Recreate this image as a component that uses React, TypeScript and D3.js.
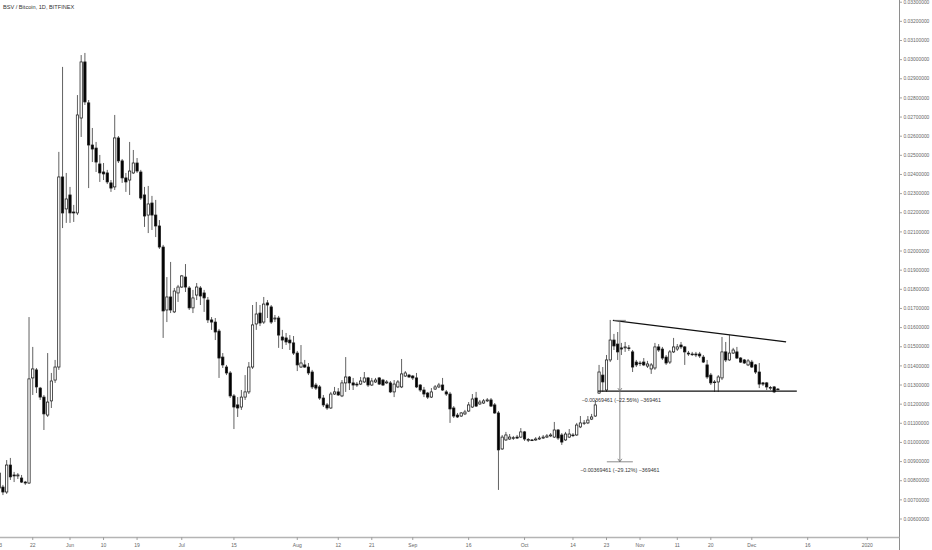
import React from 'react';
import * as d3 from 'd3';

// ---- data ----
const startDay = Date.UTC(2019, 4, 13); // first candle: 13 May 2019
const DAY = 86400000;

const open = [
  0.00762, 0.00767, 0.00741, 0.00882, 0.00830, 0.00825, 0.00814, 0.00793, 0.00788, 0.01337,
  0.01379, 0.01284, 0.01237, 0.01143, 0.01217, 0.01326, 0.01394, 0.02387, 0.02220, 0.02293,
  0.02204, 0.02199, 0.02695, 0.02988, 0.02774, 0.02554, 0.02538, 0.02455, 0.02413, 0.02408,
  0.02356, 0.02335, 0.02591, 0.02471, 0.02382, 0.02371, 0.02408, 0.02460, 0.02413, 0.02293,
  0.02188, 0.02251, 0.02188, 0.02131, 0.02021, 0.01692, 0.01760, 0.01682, 0.01781, 0.01812,
  0.01864, 0.01807, 0.01703, 0.01770, 0.01807, 0.01781, 0.01744, 0.01640, 0.01629, 0.01582,
  0.01446, 0.01394, 0.01363, 0.01243, 0.01196, 0.01185, 0.01237, 0.01264, 0.01394, 0.01619,
  0.01676, 0.01629, 0.01729, 0.01708, 0.01645, 0.01650, 0.01551, 0.01546, 0.01535, 0.01520,
  0.01467, 0.01394, 0.01405, 0.01394, 0.01368, 0.01300, 0.01290, 0.01232, 0.01196, 0.01180,
  0.01253, 0.01264, 0.01243, 0.01311, 0.01342, 0.01311, 0.01305, 0.01305, 0.01316, 0.01337,
  0.01300, 0.01316, 0.01337, 0.01326, 0.01311, 0.01311, 0.01264, 0.01290, 0.01290, 0.01347,
  0.01352, 0.01347, 0.01337, 0.01300, 0.01274, 0.01258, 0.01237, 0.01279, 0.01290, 0.01300,
  0.01264, 0.01253, 0.01180, 0.01143, 0.01138, 0.01149, 0.01164, 0.01185, 0.01232, 0.01201,
  0.01206, 0.01217, 0.01222, 0.01196, 0.01154, 0.00966, 0.01013, 0.01018, 0.01023, 0.01028,
  0.01028, 0.01055, 0.01013, 0.01013, 0.01013, 0.01018, 0.01023, 0.01028, 0.01034, 0.01028,
  0.01065, 0.01039, 0.01013, 0.01028, 0.01039, 0.01039, 0.01081, 0.01099, 0.01102, 0.01122,
  0.01138, 0.01258, 0.01352, 0.01274, 0.01431, 0.01535, 0.01514, 0.01494, 0.01494, 0.01494,
  0.01473, 0.01420, 0.01415, 0.01420, 0.01399, 0.01384, 0.01389, 0.01499, 0.01488, 0.01446,
  0.01420, 0.01473, 0.01488, 0.01509, 0.01499, 0.01467, 0.01462, 0.01462, 0.01462, 0.01446,
  0.01405, 0.01352, 0.01316, 0.01316, 0.01337, 0.01473, 0.01431, 0.01467, 0.01473, 0.01441,
  0.01431, 0.01405, 0.01420, 0.01405, 0.01368, 0.01311, 0.01311, 0.01284, 0.01290, 0.01279,
];

const high = [
  0.00856, 0.00778, 0.00908, 0.00919, 0.00846, 0.00840, 0.00830, 0.00799, 0.01655, 0.01499,
  0.01389, 0.01290, 0.01248, 0.01467, 0.01363, 0.01431, 0.02518, 0.02962, 0.02408, 0.02335,
  0.02241, 0.02815, 0.03024, 0.03035, 0.02789, 0.02643, 0.02570, 0.02502, 0.02460, 0.02424,
  0.02371, 0.02711, 0.02601, 0.02481, 0.02408, 0.02570, 0.02528, 0.02486, 0.02424, 0.02335,
  0.02340, 0.02288, 0.02267, 0.02162, 0.02032, 0.01864, 0.01943, 0.01807, 0.01823, 0.01875,
  0.01932, 0.01817, 0.01797, 0.01833, 0.01817, 0.01797, 0.01760, 0.01655, 0.01650, 0.01593,
  0.01467, 0.01405, 0.01373, 0.01253, 0.01237, 0.01274, 0.01352, 0.01420, 0.01718, 0.01734,
  0.01718, 0.01760, 0.01744, 0.01718, 0.01666, 0.01661, 0.01588, 0.01572, 0.01561, 0.01556,
  0.01478, 0.01509, 0.01431, 0.01415, 0.01379, 0.01311, 0.01300, 0.01248, 0.01206, 0.01264,
  0.01290, 0.01284, 0.01326, 0.01446, 0.01347, 0.01337, 0.01316, 0.01342, 0.01368, 0.01342,
  0.01337, 0.01337, 0.01342, 0.01332, 0.01326, 0.01321, 0.01326, 0.01326, 0.01436, 0.01373,
  0.01358, 0.01352, 0.01363, 0.01305, 0.01290, 0.01264, 0.01284, 0.01300, 0.01311, 0.01337,
  0.01274, 0.01264, 0.01190, 0.01154, 0.01159, 0.01170, 0.01211, 0.01253, 0.01264, 0.01222,
  0.01227, 0.01232, 0.01232, 0.01206, 0.01164, 0.01039, 0.01055, 0.01044, 0.01034, 0.01039,
  0.01075, 0.01060, 0.01023, 0.01018, 0.01028, 0.01034, 0.01039, 0.01044, 0.01049, 0.01107,
  0.01070, 0.01049, 0.01055, 0.01070, 0.01049, 0.01102, 0.01138, 0.01117, 0.01138, 0.01149,
  0.01222, 0.01405, 0.01394, 0.01457, 0.01640, 0.01567, 0.01577, 0.01520, 0.01525, 0.01509,
  0.01483, 0.01431, 0.01426, 0.01441, 0.01426, 0.01415, 0.01520, 0.01514, 0.01499, 0.01457,
  0.01483, 0.01546, 0.01514, 0.01525, 0.01504, 0.01478, 0.01473, 0.01473, 0.01473, 0.01457,
  0.01431, 0.01363, 0.01326, 0.01352, 0.01551, 0.01525, 0.01561, 0.01494, 0.01499, 0.01446,
  0.01436, 0.01436, 0.01431, 0.01410, 0.01415, 0.01316, 0.01316, 0.01295, 0.01295, 0.01284,
];

const low = [
  0.00752, 0.00725, 0.00731, 0.00804, 0.00793, 0.00809, 0.00788, 0.00778, 0.00783, 0.01248,
  0.01258, 0.01222, 0.01065, 0.01133, 0.01180, 0.01311, 0.01379, 0.02120, 0.02147, 0.02147,
  0.02152, 0.02188, 0.02596, 0.02763, 0.02329, 0.02465, 0.02413, 0.02361, 0.02371, 0.02350,
  0.02309, 0.02319, 0.02460, 0.02356, 0.02309, 0.02293, 0.02403, 0.02408, 0.02267, 0.02126,
  0.02094, 0.02110, 0.02073, 0.02011, 0.01546, 0.01629, 0.01676, 0.01676, 0.01734, 0.01807,
  0.01786, 0.01692, 0.01676, 0.01744, 0.01718, 0.01682, 0.01624, 0.01588, 0.01535, 0.01337,
  0.01389, 0.01352, 0.01232, 0.01070, 0.01133, 0.01170, 0.01222, 0.01253, 0.01384, 0.01588,
  0.01608, 0.01619, 0.01650, 0.01619, 0.01629, 0.01494, 0.01488, 0.01509, 0.01483, 0.01457,
  0.01373, 0.01389, 0.01389, 0.01352, 0.01279, 0.01274, 0.01222, 0.01185, 0.01170, 0.01175,
  0.01248, 0.01243, 0.01237, 0.01264, 0.01274, 0.01274, 0.01290, 0.01300, 0.01311, 0.01290,
  0.01295, 0.01311, 0.01300, 0.01295, 0.01305, 0.01258, 0.01237, 0.01284, 0.01284, 0.01342,
  0.01337, 0.01326, 0.01284, 0.01264, 0.01237, 0.01227, 0.01232, 0.01274, 0.01284, 0.01269,
  0.01243, 0.01102, 0.01128, 0.01128, 0.01133, 0.01143, 0.01159, 0.01180, 0.01185, 0.01196,
  0.01201, 0.01211, 0.01185, 0.01149, 0.00752, 0.00961, 0.01008, 0.01013, 0.01013, 0.01018,
  0.01023, 0.01008, 0.01002, 0.01008, 0.01008, 0.01013, 0.01018, 0.01023, 0.01028, 0.01023,
  0.01013, 0.00987, 0.01008, 0.01023, 0.01028, 0.01034, 0.01075, 0.01091, 0.01096, 0.01117,
  0.01133, 0.01253, 0.01264, 0.01264, 0.01420, 0.01483, 0.01431, 0.01457, 0.01473, 0.01478,
  0.01368, 0.01394, 0.01399, 0.01399, 0.01389, 0.01358, 0.01379, 0.01473, 0.01431, 0.01405,
  0.01410, 0.01467, 0.01478, 0.01488, 0.01405, 0.01452, 0.01452, 0.01446, 0.01441, 0.01415,
  0.01332, 0.01300, 0.01264, 0.01264, 0.01326, 0.01420, 0.01426, 0.01462, 0.01436, 0.01415,
  0.01410, 0.01399, 0.01389, 0.01358, 0.01284, 0.01295, 0.01274, 0.01274, 0.01258, 0.01274,
];

const close = [
  0.00840, 0.00741, 0.00882, 0.00820, 0.00825, 0.00830, 0.00793, 0.00788, 0.01332, 0.01384,
  0.01290, 0.01237, 0.01149, 0.01211, 0.01321, 0.01394, 0.02387, 0.02199, 0.02272, 0.02199,
  0.02199, 0.02711, 0.02988, 0.02779, 0.02554, 0.02533, 0.02465, 0.02408, 0.02403, 0.02361,
  0.02329, 0.02591, 0.02471, 0.02382, 0.02361, 0.02418, 0.02460, 0.02418, 0.02277, 0.02183,
  0.02246, 0.02188, 0.02131, 0.02021, 0.01687, 0.01760, 0.01692, 0.01791, 0.01812, 0.01870,
  0.01812, 0.01703, 0.01755, 0.01812, 0.01765, 0.01755, 0.01640, 0.01629, 0.01577, 0.01441,
  0.01405, 0.01363, 0.01243, 0.01185, 0.01180, 0.01237, 0.01264, 0.01394, 0.01614, 0.01671,
  0.01624, 0.01723, 0.01718, 0.01629, 0.01650, 0.01561, 0.01535, 0.01525, 0.01520, 0.01467,
  0.01405, 0.01415, 0.01394, 0.01363, 0.01290, 0.01284, 0.01232, 0.01196, 0.01180, 0.01253,
  0.01264, 0.01248, 0.01311, 0.01342, 0.01311, 0.01300, 0.01300, 0.01321, 0.01337, 0.01300,
  0.01321, 0.01326, 0.01305, 0.01300, 0.01316, 0.01264, 0.01305, 0.01316, 0.01358, 0.01363,
  0.01342, 0.01337, 0.01290, 0.01274, 0.01253, 0.01237, 0.01264, 0.01290, 0.01300, 0.01274,
  0.01253, 0.01175, 0.01138, 0.01133, 0.01154, 0.01159, 0.01196, 0.01227, 0.01190, 0.01211,
  0.01217, 0.01222, 0.01190, 0.01154, 0.00961, 0.01028, 0.01039, 0.01028, 0.01025, 0.01023,
  0.01055, 0.01018, 0.01015, 0.01011, 0.01018, 0.01023, 0.01028, 0.01034, 0.01039, 0.01065,
  0.01023, 0.01002, 0.01044, 0.01044, 0.01036, 0.01091, 0.01102, 0.01102, 0.01117, 0.01133,
  0.01196, 0.01368, 0.01316, 0.01431, 0.01535, 0.01504, 0.01473, 0.01488, 0.01499, 0.01491,
  0.01394, 0.01405, 0.01412, 0.01405, 0.01410, 0.01405, 0.01499, 0.01483, 0.01441, 0.01415,
  0.01473, 0.01499, 0.01499, 0.01499, 0.01473, 0.01462, 0.01460, 0.01457, 0.01452, 0.01420,
  0.01342, 0.01311, 0.01313, 0.01342, 0.01473, 0.01431, 0.01467, 0.01483, 0.01441, 0.01420,
  0.01415, 0.01426, 0.01394, 0.01368, 0.01305, 0.01305, 0.01290, 0.01287, 0.01264, 0.01277,
];

const yTickValues = [
  0.006, 0.007, 0.008, 0.009, 0.010, 0.011, 0.012, 0.013, 0.014, 0.015,
  0.016, 0.017, 0.018, 0.019, 0.020, 0.021, 0.022, 0.023, 0.024, 0.025,
  0.026, 0.027, 0.028, 0.029, 0.030, 0.031, 0.032, 0.033,
];

const xTickDates = [
  '2019-05-13', '2019-05-22', '2019-06-01', '2019-06-10', '2019-06-19', '2019-07-01', '2019-07-15',
  '2019-08-01', '2019-08-12', '2019-08-21', '2019-09-01', '2019-09-16', '2019-10-01', '2019-10-14',
  '2019-10-23', '2019-11-01', '2019-11-11', '2019-11-20', '2019-12-01', '2019-12-16', '2020-01-01',
];
const xTickLabels = [
  '13', '22', 'Jun', '10', '19', 'Jul', '15', 'Aug', '12', '21', 'Sep', '16', 'Oct', '14',
  '23', 'Nov', '11', '20', 'Dec', '16', '2020',
];

const title = 'BSV / Bitcoin, 1D, BITFINEX';

// drawn annotations (date, price)
const topTrendDates = ['2019-10-24T17:00:00Z', '2019-12-10T05:00:00Z'];
const topTrendPrices = [0.016377, 0.01525];
const baseTrendDates = ['2019-10-20T17:00:00Z', '2019-12-13T02:00:00Z'];
const baseTrendPrices = [0.012682, 0.012682];
const measureDate = '2019-10-26T14:00:00Z';
const measureLevels = [0.016377, 0.012682, 0.008988];
const measureLabels = ['\u22120.00369461 (\u221222.56%) \u2212369461', '\u22120.00369461 (\u221229.12%) \u2212369461'];

// ---- layout ----
const W = 932;
const H = 550;
const axisX = 899.5;
const axisY = 537.5;
const FONT = '"Liberation Sans", Arial, sans-serif';

export default function App() {
  const x = d3
    .scaleUtc()
    .domain([new Date(Date.UTC(2019, 5, 1)), new Date(Date.UTC(2020, 0, 1))])
    .range([70, 867.3]);
  const y = d3.scaleLinear().domain([0.006, 0.031]).range([519, 40.5]);

  const bw = 2.3;
  const candles = open.map((o, i) => {
    const c = close[i];
    const cx = x(new Date(startDay + i * DAY));
    const up = c >= o;
    const yTop = y(Math.max(o, c));
    const yBot = y(Math.min(o, c));
    return { i, cx, up, yTop, h: Math.max(yBot - yTop, 0.7), yH: y(high[i]), yL: y(low[i]) };
  });

  const mx = x(new Date(measureDate));
  const mY = measureLevels.map((v) => y(v));
  const topLine = d3.line<number>()(
    topTrendDates.map((d, k) => [x(new Date(d)), y(topTrendPrices[k])] as [number, number]) as any
  );
  const baseLine = d3.line<number>()(
    baseTrendDates.map((d, k) => [x(new Date(d)), y(baseTrendPrices[k])] as [number, number]) as any
  );

  return (
    <svg
      width={W}
      height={H}
      viewBox={`0 0 ${W} ${H}`}
      style={{ position: 'absolute', left: 0, top: 0, background: '#fff', fontFamily: FONT }}
    >
      <rect x={0} y={0} width={W} height={H} fill="#fff" />

      {/* candles */}
      <g>
        {candles.map((d) => (
          <g key={d.i}>
            <line x1={d.cx} x2={d.cx} y1={d.yH} y2={d.yL} stroke="#3a3a3a" strokeWidth={0.8} />
            <rect
              x={d.cx - bw / 2}
              y={d.yTop}
              width={bw}
              height={d.h}
              fill={d.up ? '#ffffff' : '#000000'}
              stroke="#1a1a1a"
              strokeWidth={0.75}
            />
          </g>
        ))}
      </g>

      {/* trend lines */}
      <path d={topLine || ''} stroke="#111" strokeWidth={1.3} fill="none" />
      <path d={baseLine || ''} stroke="#111" strokeWidth={1.3} fill="none" />

      {/* measure tool */}
      <g stroke="#6e6e6e" strokeWidth={0.8} fill="none">
        <line x1={mx} x2={mx} y1={mY[0]} y2={mY[2]} />
        <line x1={mx - 6} x2={mx + 6} y1={mY[0]} y2={mY[0]} />
        <line x1={mx - 13} x2={mx + 13} y1={mY[2]} y2={mY[2]} />
        <path d={`M${mx - 2},${mY[1] - 3} L${mx},${mY[1]} L${mx + 2},${mY[1] - 3}`} />
        <path d={`M${mx - 2},${mY[2] - 3} L${mx},${mY[2]} L${mx + 2},${mY[2] - 3}`} />
      </g>
      <text x={mx + 1.5} y={mY[1] + 10.5} fontSize={5.3} fill="#333" textAnchor="middle">
        {measureLabels[0]}
      </text>
      <text x={mx} y={mY[2] + 10.5} fontSize={5.3} fill="#333" textAnchor="middle">
        {measureLabels[1]}
      </text>

      {/* title */}
      <text x={3} y={9.3} fontSize={5.6} fill="#333">
        {title}
      </text>

      {/* right axis */}
      <line x1={axisX} x2={axisX} y1={0} y2={H} stroke="#8e8e8e" strokeWidth={1} />
      {yTickValues.map((v) => (
        <g key={v}>
          <line x1={axisX} x2={axisX + 2.5} y1={y(v)} y2={y(v)} stroke="#8e8e8e" strokeWidth={0.8} />
          <text x={903.5} y={y(v)} dy="0.35em" fontSize={4.9} fill="#666">
            {v.toFixed(8)}
          </text>
        </g>
      ))}

      {/* bottom axis */}
      <line x1={0} x2={axisX} y1={axisY} y2={axisY} stroke="#b4b4b4" strokeWidth={1.3} />
      {xTickDates.map((d, k) => {
        const tx = x(new Date(d + 'T00:00:00Z'));
        return (
          <g key={d}>
            <line x1={tx} x2={tx} y1={axisY} y2={axisY + 2.5} stroke="#888" strokeWidth={0.8} />
            <text x={tx} y={546.7} fontSize={5} fill="#666" textAnchor="middle">
              {xTickLabels[k]}
            </text>
          </g>
        );
      })}
    </svg>
  );
}
